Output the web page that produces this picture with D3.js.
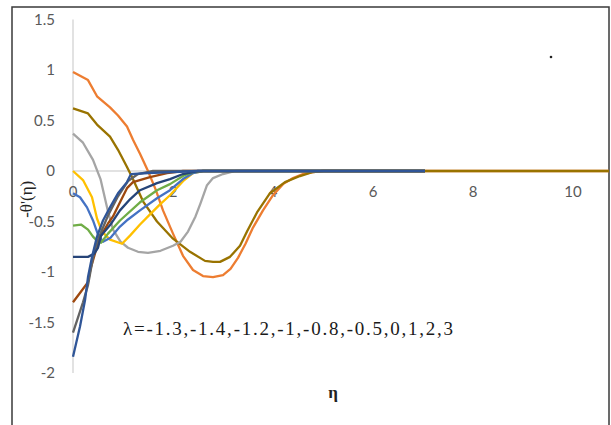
<!DOCTYPE html>
<html>
<head>
<meta charset="utf-8">
<script src="https://cdn.jsdelivr.net/npm/d3@7"></script>
<style>
  body { margin: 0; background: #fff; }
  svg { display: block; }
</style>
</head>
<body>
<div id="chart"></div>
<script>
// lambda values, one series each (colour order as in the workbook)
const lambdas = ["3", "2", "1", "0", "-0.5", "-0.8", "-1.2", "-1.3", "-1", "-1.4"];
const colors = ["#ED7D31", "#997300", "#A5A5A5", "#FFC000", "#4472C4", "#70AD47",
                "#9E480E", "#636363", "#264478", "#2F5597"];

// [eta, -theta'(eta)]
const s3 = [[0,0.98],[0.3,0.9],[0.48,0.74],[0.74,0.63],[0.9,0.55],[1.08,0.44],[1.2,0.31],[1.34,0.17],
  [1.5,0.0],[1.65,-0.18],[1.8,-0.39],[2.0,-0.62],[2.2,-0.84],[2.4,-0.98],[2.6,-1.04],[2.8,-1.05],
  [3.0,-1.03],[3.15,-0.97],[3.3,-0.86],[3.45,-0.72],[3.6,-0.56],[3.8,-0.39],[4.0,-0.24],[4.2,-0.13],
  [4.4,-0.07],[4.6,-0.03],[4.8,-0.01],[5.0,0],[10.72,0]];
const s2 = [[0,0.62],[0.3,0.57],[0.48,0.46],[0.74,0.34],[0.9,0.21],[1.08,0.04],[1.18,-0.06],[1.4,-0.3],
  [1.68,-0.5],[2.0,-0.67],[2.34,-0.8],[2.64,-0.89],[2.8,-0.9],[2.94,-0.9],[3.14,-0.85],[3.34,-0.74],
  [3.48,-0.6],[3.68,-0.41],[3.94,-0.22],[4.24,-0.11],[4.54,-0.05],[4.8,-0.01],[5.0,0],[10.72,0]];
const s1 = [[0,0.37],[0.2,0.28],[0.4,0.11],[0.55,-0.08],[0.7,-0.4],[0.8,-0.58],[0.95,-0.7],[1.1,-0.76],
  [1.3,-0.8],[1.5,-0.81],[1.75,-0.79],[2.0,-0.74],[2.15,-0.7],[2.3,-0.6],[2.45,-0.45],[2.55,-0.32],
  [2.68,-0.14],[2.8,-0.07],[3.0,-0.03],[3.25,0],[7.04,0]];
const s0 = [[0,0],[0.2,-0.09],[0.38,-0.26],[0.48,-0.47],[0.58,-0.6],[0.74,-0.68],[0.98,-0.72],
  [1.14,-0.64],[1.34,-0.53],[1.54,-0.43],[1.74,-0.33],[1.94,-0.24],[2.2,-0.1],[2.4,-0.02],[2.6,0],[7.04,0]];
const sm05 = [[0,-0.22],[0.14,-0.26],[0.28,-0.36],[0.4,-0.49],[0.5,-0.63],[0.6,-0.7],[0.75,-0.66],
  [0.94,-0.55],[1.1,-0.48],[1.34,-0.39],[1.68,-0.27],[1.94,-0.19],[2.2,-0.08],[2.4,-0.02],[2.6,0],[7.04,0]];
const sm08 = [[0,-0.54],[0.16,-0.53],[0.3,-0.58],[0.4,-0.65],[0.5,-0.7],[0.56,-0.71],[0.7,-0.62],
  [0.94,-0.49],[1.34,-0.31],[1.68,-0.19],[1.94,-0.13],[2.2,-0.05],[2.4,-0.01],[2.6,0],[7.04,0]];
const sm12 = [[0,-1.3],[0.15,-1.2],[0.3,-1.1],[0.35,-0.97],[0.45,-0.8],[0.55,-0.65],[0.7,-0.52],
  [0.8,-0.45],[0.94,-0.31],[1.08,-0.17],[1.2,-0.11],[1.54,-0.06],[1.88,-0.02],[2.2,0],[7.04,0]];
const sm13 = [[0,-1.6],[0.2,-1.3],[0.3,-1.13],[0.4,-0.86],[0.5,-0.68],[0.7,-0.44],[0.9,-0.25],
  [1.1,-0.1],[1.3,-0.03],[1.6,0],[7.04,0]];
const sm1 = [[0,-0.85],[0.3,-0.85],[0.42,-0.82],[0.5,-0.76],[0.56,-0.64],[0.75,-0.53],[0.94,-0.39],
  [1.14,-0.28],[1.34,-0.19],[1.68,-0.12],[1.94,-0.08],[2.2,-0.03],[2.5,0],[7.04,0]];
const sm14 = [[0,-1.84],[0.14,-1.54],[0.24,-1.28],[0.3,-1.05],[0.38,-0.85],[0.48,-0.65],[0.6,-0.49],
  [0.74,-0.36],[0.9,-0.22],[1.08,-0.11],[1.16,-0.03],[1.5,-0.02],[2.0,-0.01],[2.5,0],[7.04,0]];
const seriesData = [s3, s2, s1, s0, sm05, sm08, sm12, sm13, sm1, sm14];

const xTicks = [0, 2, 4, 6, 8, 10];
const yTicks = [-2, -1.5, -1, -0.5, 0, 0.5, 1, 1.5];
const note = "λ=-1.3,-1.4,-1.2,-1,-0.8,-0.5,0,1,2,3";

const width = 611, height = 425;

const x = d3.scaleLinear().domain([0, 10.72]).range([73, 609]);
const y = d3.scaleLinear().domain([-2, 1.5]).range([373, 19.5]);

const svg = d3.select("#chart")
  .append("svg")
  .attr("width", width)
  .attr("height", height);

// frame
svg.append("rect")
  .attr("x", 12).attr("y", 7)
  .attr("width", 597).attr("height", 430)
  .attr("fill", "none")
  .attr("stroke", "#3a3a3a")
  .attr("stroke-width", 1.5);

// axis lines
svg.append("line")
  .attr("x1", x(0)).attr("x2", x(0))
  .attr("y1", y(1.5)).attr("y2", y(-2))
  .attr("stroke", "#d9d9d9").attr("stroke-width", 1.5);
svg.append("line")
  .attr("x1", x(0)).attr("x2", x(10.72))
  .attr("y1", y(0)).attr("y2", y(0))
  .attr("stroke", "#d9d9d9").attr("stroke-width", 1.5);

// tick labels
svg.append("g")
  .attr("font-family", "Lato, 'Liberation Sans', sans-serif")
  .attr("font-size", 15)
  .attr("fill", "#595959")
  .attr("text-anchor", "end")
  .selectAll("text")
  .data(yTicks)
  .join("text")
  .attr("x", 55)
  .attr("y", d => y(d))
  .attr("dy", "0.35em")
  .text(d => d);

svg.append("g")
  .attr("font-family", "Lato, 'Liberation Sans', sans-serif")
  .attr("font-size", 15)
  .attr("fill", "#595959")
  .attr("text-anchor", "middle")
  .selectAll("text")
  .data(xTicks)
  .join("text")
  .attr("x", d => x(d))
  .attr("y", y(0) + 26)
  .text(d => d);

// curves
const line = d3.line()
  .x(d => x(d[0]))
  .y(d => y(d[1]));

svg.append("g")
  .attr("fill", "none")
  .attr("stroke-width", 2.3)
  .attr("stroke-linejoin", "round")
  .selectAll("path")
  .data(seriesData)
  .join("path")
  .attr("stroke", (d, i) => colors[i])
  .attr("d", line);

// axis titles and note
svg.append("text")
  .attr("transform", `translate(32, ${y(-0.28)}) rotate(-90)`)
  .attr("text-anchor", "middle")
  .attr("font-family", "'Liberation Serif', serif")
  .attr("font-size", 17)
  .attr("fill", "#222")
  .text("-θ'(η)");

svg.append("text")
  .attr("x", 333)
  .attr("y", 398)
  .attr("text-anchor", "middle")
  .attr("font-family", "'Liberation Serif', serif")
  .attr("font-weight", "bold")
  .attr("font-size", 17)
  .attr("fill", "#222")
  .text("η");

svg.append("text")
  .attr("x", 123)
  .attr("y", 335)
  .attr("font-family", "'Liberation Serif', serif")
  .attr("font-size", 19)
  .attr("fill", "#1a1a1a")
  .attr("textLength", 330)
  .attr("lengthAdjust", "spacing")
  .text(note);

// stray dot in the plot area
svg.append("circle")
  .attr("cx", 551).attr("cy", 57)
  .attr("r", 1.3)
  .attr("fill", "#222");
</script>
</body>
</html>
